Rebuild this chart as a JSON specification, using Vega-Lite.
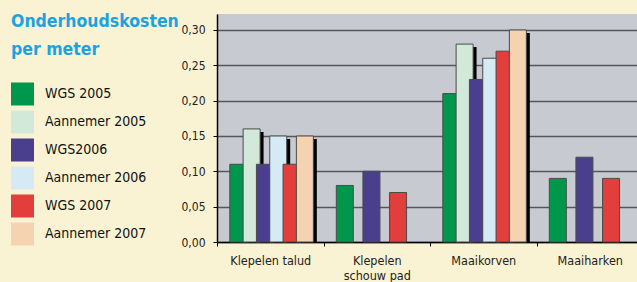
{
  "$schema": "https://vega.github.io/schema/vega-lite/v6.json",
  "width": 426,
  "height": 228,
  "autosize": {"type": "none"},
  "padding": {"left": 217, "top": 14, "right": 0, "bottom": 40},
  "background": "#FAF3D3",
  "config": {
    "view": {"fill": "#C8CAD2", "stroke": null},
    "font": "Liberation Sans Narrow, DejaVu Sans Condensed, Roboto, sans-serif"
  },
  "data": {
    "values": [
      {"categorie": "Klepelen talud", "reeks": "WGS 2005", "type": "WGS", "kosten": 0.11},
      {"categorie": "Klepelen talud", "reeks": "Aannemer 2005", "type": "Aannemer", "kosten": 0.16},
      {"categorie": "Klepelen talud", "reeks": "WGS2006", "type": "WGS", "kosten": 0.11},
      {"categorie": "Klepelen talud", "reeks": "Aannemer 2006", "type": "Aannemer", "kosten": 0.15},
      {"categorie": "Klepelen talud", "reeks": "WGS 2007", "type": "WGS", "kosten": 0.11},
      {"categorie": "Klepelen talud", "reeks": "Aannemer 2007", "type": "Aannemer", "kosten": 0.15},
      {"categorie": "Klepelen schouw pad", "reeks": "WGS 2005", "type": "WGS", "kosten": 0.08},
      {"categorie": "Klepelen schouw pad", "reeks": "WGS2006", "type": "WGS", "kosten": 0.10},
      {"categorie": "Klepelen schouw pad", "reeks": "WGS 2007", "type": "WGS", "kosten": 0.07},
      {"categorie": "Maaikorven", "reeks": "WGS 2005", "type": "WGS", "kosten": 0.21},
      {"categorie": "Maaikorven", "reeks": "Aannemer 2005", "type": "Aannemer", "kosten": 0.28},
      {"categorie": "Maaikorven", "reeks": "WGS2006", "type": "WGS", "kosten": 0.23},
      {"categorie": "Maaikorven", "reeks": "Aannemer 2006", "type": "Aannemer", "kosten": 0.26},
      {"categorie": "Maaikorven", "reeks": "WGS 2007", "type": "WGS", "kosten": 0.27},
      {"categorie": "Maaikorven", "reeks": "Aannemer 2007", "type": "Aannemer", "kosten": 0.30},
      {"categorie": "Maaiharken", "reeks": "WGS 2005", "type": "WGS", "kosten": 0.09},
      {"categorie": "Maaiharken", "reeks": "WGS2006", "type": "WGS", "kosten": 0.12},
      {"categorie": "Maaiharken", "reeks": "WGS 2007", "type": "WGS", "kosten": 0.09}
    ]
  },
  "encoding": {
    "x": {
      "field": "categorie",
      "type": "nominal",
      "sort": ["Klepelen talud", "Klepelen schouw pad", "Maaikorven", "Maaiharken"],
      "scale": {"paddingInner": 0, "paddingOuter": 0},
      "axis": {
        "title": null,
        "labelAngle": 0,
        "tickBand": "extent",
        "domainColor": "#000000",
        "domainWidth": 1.5,
        "tickColor": "#000000",
        "tickSize": 4,
        "labelPadding": 8,
        "labelFontSize": 12.5,
        "labelColor": "#222222",
        "labelLineHeight": 15,
        "labelExpr": "datum.label == 'Klepelen schouw pad' ? ['Klepelen', 'schouw pad'] : datum.label"
      }
    },
    "y": {
      "field": "kosten",
      "type": "quantitative",
      "stack": null,
      "scale": {"domain": [0, 0.3226], "nice": false, "zero": true},
      "axis": {
        "title": null,
        "values": [0, 0.05, 0.1, 0.15, 0.2, 0.25, 0.3],
        "format": ".2f",
        "labelExpr": "replace(datum.label, '.', ',')",
        "grid": true,
        "gridColor": "#55555c",
        "gridWidth": 1.5,
        "domainColor": "#000000",
        "domainWidth": 1.5,
        "tickColor": "#000000",
        "tickSize": 4,
        "labelPadding": 8,
        "labelFontSize": 12,
        "labelColor": "#222222"
      }
    }
  },
  "layer": [
    {
      "transform": [{"filter": "datum.type == 'Aannemer'"}],
      "mark": {"type": "bar", "color": "#000000", "size": 17, "yOffset": 3},
      "encoding": {
        "xOffset": {
          "field": "reeks",
          "type": "nominal",
          "scale": {
            "domain": ["WGS 2005", "Aannemer 2005", "WGS2006", "Aannemer 2006", "WGS 2007", "Aannemer 2007"],
            "paddingInner": 0, "paddingOuter": 1.2, "align": 0.68
          }
        }
      }
    },
    {
      "mark": {"type": "bar", "size": 17, "stroke": "#4a4a4a", "strokeWidth": 1},
      "encoding": {
        "xOffset": {
          "field": "reeks",
          "type": "nominal",
          "scale": {
            "domain": ["WGS 2005", "Aannemer 2005", "WGS2006", "Aannemer 2006", "WGS 2007", "Aannemer 2007"],
            "paddingInner": 0, "paddingOuter": 1.2, "align": 0.55
          }
        },
        "color": {
          "field": "reeks",
          "type": "nominal",
          "scale": {
            "domain": ["WGS 2005", "Aannemer 2005", "WGS2006", "Aannemer 2006", "WGS 2007", "Aannemer 2007"],
            "range": ["#00964B", "#D2E8D8", "#4A3F8C", "#D5EAF4", "#E23E3C", "#F5D3B0"]
          },
          "legend": {
            "title": ["Onderhoudskosten", "per meter"],
            "orient": "none",
            "legendX": -206,
            "legendY": -1,
            "titleFontSize": 17.5,
            "titleFontWeight": "bold",
            "titleColor": "#1BA3E0",
            "titleLineHeight": 28,
            "titleBaseline": "top",
            "titlePadding": 24,
            "titleLimit": 300,
            "symbolType": "square",
            "symbolSize": 529,
            "symbolStrokeWidth": 0,
            "symbolOpacity": 1,
            "labelFontSize": 14,
            "labelColor": "#111111",
            "labelOffset": 11,
            "rowPadding": 5,
            "labelLimit": 300
          }
        }
      }
    }
  ],
  "resolve": {"scale": {"xOffset": "independent"}}
}
